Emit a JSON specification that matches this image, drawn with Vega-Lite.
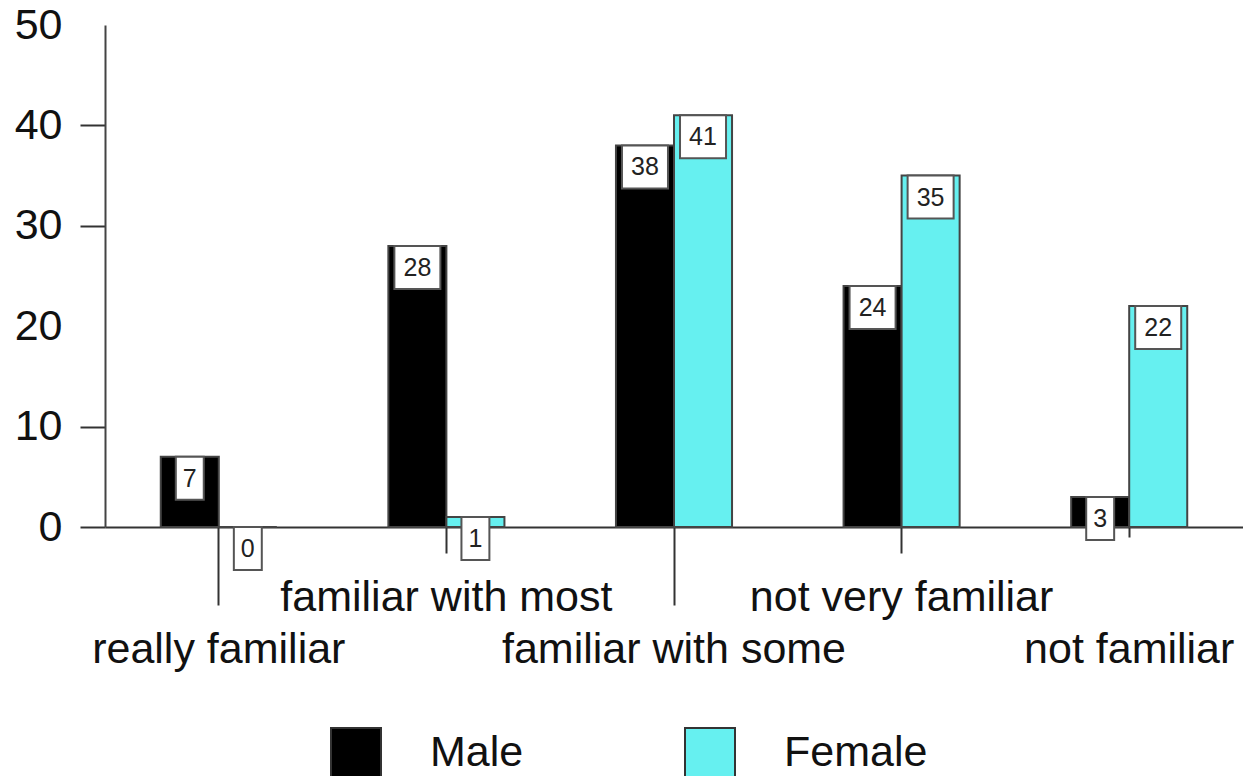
{
  "$schema": "https://vega.github.io/schema/vega-lite/v6.json",
  "autosize": {"type": "none"},
  "width": 1138,
  "height": 502,
  "padding": {"left": 105, "top": 25, "right": 0, "bottom": 249},
  "background": "white",
  "config": {
    "view": {"stroke": null},
    "font": "Liberation Sans"
  },
  "data": {
    "values": [
      {"category": "really familiar", "gender": "Male", "value": 7},
      {"category": "really familiar", "gender": "Female", "value": 0},
      {"category": "familiar with most", "gender": "Male", "value": 28},
      {"category": "familiar with most", "gender": "Female", "value": 1},
      {"category": "familiar with some", "gender": "Male", "value": 38},
      {"category": "familiar with some", "gender": "Female", "value": 41},
      {"category": "not very familiar", "gender": "Male", "value": 24},
      {"category": "not very familiar", "gender": "Female", "value": 35},
      {"category": "not familiar", "gender": "Male", "value": 3},
      {"category": "not familiar", "gender": "Female", "value": 22}
    ]
  },
  "encoding": {
    "x": {
      "field": "category",
      "type": "nominal",
      "sort": ["really familiar", "familiar with most", "familiar with some", "not very familiar", "not familiar"],
      "scale": {"paddingInner": 0.49, "paddingOuter": 0.245},
      "axis": {
        "title": null,
        "labelAngle": 0,
        "labelFont": "Liberation Sans",
        "labelFontSize": 43,
        "labelColor": "#111",
        "labelBaseline": "alphabetic",
        "labelLimit": 0,
        "domainColor": "#333",
        "domainWidth": 2,
        "tickColor": "#333",
        "tickWidth": 2,
        "tickSize": {
          "condition": [
            {"test": "datum.value === 'really familiar' || datum.value === 'familiar with some'", "value": 78},
            {"test": "datum.value === 'not familiar'", "value": 10}
          ],
          "value": 26
        },
        "labelPadding": {
          "condition": {"test": "datum.value === 'not familiar'", "value": 125},
          "value": 57
        }
      }
    },
    "xOffset": {"field": "gender", "type": "nominal", "sort": ["Male", "Female"], "scale": {"paddingInner": 0, "paddingOuter": 0}},
    "y": {
      "field": "value",
      "type": "quantitative",
      "scale": {"domain": [0, 50], "nice": false},
      "axis": {
        "title": null,
        "values": [0, 10, 20, 30, 40, 50],
        "grid": false,
        "labelFont": "Liberation Sans",
        "labelFontSize": 43,
        "labelColor": "#111",
        "labelPadding": 18,
        "tickSize": 25,
        "tickWidth": 2,
        "tickColor": "#333",
        "tickOpacity": {"condition": {"test": "datum.value === 20 || datum.value === 50", "value": 0}, "value": 1},
        "domainColor": "#444",
        "domainWidth": 2
      }
    }
  },
  "layer": [
    {
      "mark": {"type": "bar", "stroke": "#444", "strokeWidth": 2},
      "encoding": {
        "color": {
          "field": "gender",
          "type": "nominal",
          "scale": {"domain": ["Male", "Female"], "range": ["#000000", "#66f0f0"]},
          "legend": {
            "title": null,
            "orient": "none",
            "legendX": 225,
            "legendY": 702,
            "direction": "horizontal",
            "padding": 0,
            "symbolType": "square",
            "symbolSize": 2500,
            "symbolStrokeColor": "#333",
            "symbolStrokeWidth": 2,
            "labelFont": "Liberation Sans",
            "labelFontSize": 43,
            "labelColor": "#111",
            "labelOffset": 48,
            "columnPadding": 157
          }
        }
      }
    },
    {
      "mark": {"type": "point", "filled": true, "fill": "white", "stroke": "#555", "strokeWidth": 2, "opacity": 1, "size": 1849, "yOffset": 21.5},
      "encoding": {
        "shape": {
          "condition": {"test": "datum.value >= 10", "value": "M-1.07,-1L1.07,-1L1.07,1L-1.07,1Z"},
          "value": "M-0.65,-1L0.65,-1L0.65,1L-0.65,1Z"
        }
      }
    },
    {
      "mark": {"type": "text", "font": "Liberation Sans", "fontSize": 25, "color": "#222", "baseline": "middle", "align": "center", "yOffset": 22},
      "encoding": {"text": {"field": "value", "type": "quantitative"}}
    }
  ]
}
